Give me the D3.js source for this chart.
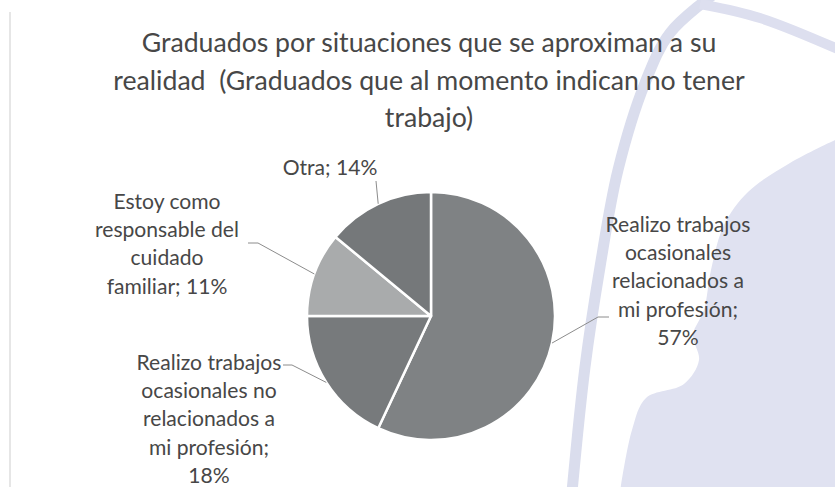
<!DOCTYPE html>
<html>
<head>
<meta charset="utf-8">
<script src="https://cdn.jsdelivr.net/npm/d3@7"></script>
<style>
  body { margin: 0; background: #fff; }
  svg { display: block; }
  text { font-family: Lato, "Open Sans", sans-serif; fill: #474747; white-space: pre; }
</style>
</head>
<body>
<div id="chart"></div>
<script>
// data
var categories = [
  "Realizo trabajos ocasionales relacionados a mi profesión",
  "Realizo trabajos ocasionales no relacionados a mi profesión",
  "Estoy como responsable del cuidado familiar",
  "Otra"
];
var values = [57, 18, 11, 14];
var labelLines = [
  ["Realizo trabajos", "ocasionales", "relacionados a", "mi profesión;", "57%"],
  ["Realizo trabajos", "ocasionales no", "relacionados a", "mi profesión;", "18%"],
  ["Estoy como", "responsable del", "cuidado", "familiar; 11%"],
  ["Otra; 14%"]
];
var titleLines = [
  "Graduados por situaciones que se aproximan a su",
  "realidad  (Graduados que al momento indican no tener",
  "trabajo)"
];

// layout
var width = 835, height = 487;
var cx = 431, cy = 316, radius = 124;
var sliceColors = ["#7f8284", "#777a7c", "#a9abac", "#75787a"];
// text block: center x, first baseline; leader: label end then elbow
var labelLayout = [
  { x: 678, y: 232, leader: [[609, 317], [598, 317]] },
  { x: 209, y: 370, leader: [[283, 365], [292, 365]] },
  { x: 167, y: 209, leader: [[248, 243], [258, 243]] },
  { x: 330, y: 175, leader: [[376, 181]] }
];
var lineStep = 28.2;

var svg = d3.select("#chart")
  .append("svg")
  .attr("width", width)
  .attr("height", height);

// faint watermark of the scanned page
var bg = svg.append("g");
var curve = d3.line().curve(d3.curveCatmullRom);
bg.append("path")
  .attr("d", curve([[835, 140], [790, 163], [748, 192], [724, 225], [711, 270], [704, 310], [693, 335], [699, 360], [684, 384], [646, 398], [632, 430], [620, 492]]) + "L835,492Z")
  .attr("fill", "#e0e2f1");
bg.append("path")
  .attr("d", curve([[714, -6], [670, 33], [645, 83], [618, 170], [600, 267], [585, 367], [572, 492]]))
  .attr("fill", "none").attr("stroke", "#dadded").attr("stroke-width", 11);
bg.append("path")
  .attr("d", curve([[700, 4], [760, 18], [840, 50]]))
  .attr("fill", "none").attr("stroke", "#dddfef").attr("stroke-width", 10);
bg.append("line")
  .attr("x1", 10).attr("x2", 10).attr("y1", 12).attr("y2", height)
  .attr("stroke", "#e6e6e6").attr("stroke-width", 2);

// fit font sizes to the measured widths of the original
function fitSize(str, target) {
  var t = svg.append("text").attr("font-size", 100).text(str);
  var w = t.node().getComputedTextLength();
  t.remove();
  return 100 * target / w;
}
var titleSize = fitSize(titleLines[0], 575);
var labelSize = fitSize("Realizo trabajos", 145);

svg.append("g")
  .selectAll("text")
  .data(titleLines)
  .enter().append("text")
  .attr("x", 429)
  .attr("y", function (d, i) { return 52 + i * 37.5; })
  .attr("text-anchor", "middle")
  .attr("font-size", titleSize)
  .text(function (d) { return d; });

var pie = d3.pie().sort(null).value(function (d) { return d; });
var arcs = pie(values);
var arc = d3.arc().innerRadius(0).outerRadius(radius);
var edge = d3.arc().innerRadius(radius).outerRadius(radius);

var g = svg.append("g").attr("transform", "translate(" + cx + "," + cy + ")");
g.selectAll("path")
  .data(arcs)
  .enter().append("path")
  .attr("d", arc)
  .attr("fill", function (d, i) { return sliceColors[i]; })
  .attr("stroke", "#fff")
  .attr("stroke-width", 2.5)
  .attr("stroke-linejoin", "round");

// leader lines
svg.append("g")
  .selectAll("path")
  .data(arcs)
  .enter().append("path")
  .attr("d", function (d, i) {
    var p = edge.centroid(d);
    var pts = labelLayout[i].leader.concat([[cx + p[0], cy + p[1]]]);
    return d3.line()(pts);
  })
  .attr("fill", "none")
  .attr("stroke", "#8c8c8c")
  .attr("stroke-width", 1);

// labels
var labels = svg.append("g")
  .selectAll("text")
  .data(arcs)
  .enter().append("text")
  .attr("text-anchor", "middle")
  .attr("font-size", labelSize);
labels.each(function (d, i) {
  var lay = labelLayout[i];
  d3.select(this).selectAll("tspan")
    .data(labelLines[i])
    .enter().append("tspan")
    .attr("x", lay.x)
    .attr("y", function (s, j) { return lay.y + j * lineStep; })
    .text(function (s) { return s; });
});
</script>
</body>
</html>
